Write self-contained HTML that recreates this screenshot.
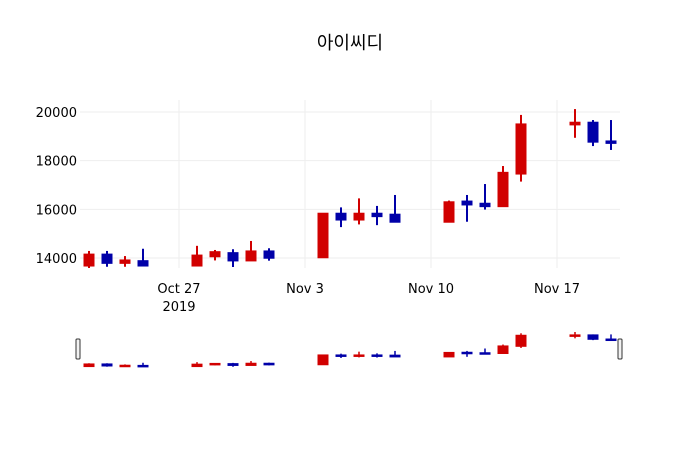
<!DOCTYPE html>
<html><head><meta charset="utf-8"><style>
body{margin:0;background:#fff;}
svg{display:block;font-family:"DejaVu Sans","Liberation Sans","Noto Sans CJK KR",sans-serif;}
</style></head><body>
<svg id="chart" width="700" height="450">
<text x="350" y="49" text-anchor="middle" font-size="18" fill="#000">아이씨디</text>
<g id="grid"></g><g id="yt"></g><g id="xt"></g>
<defs><clipPath id="pc"><rect x="80" y="100" width="540" height="168"/></clipPath></defs>
<g id="candles" clip-path="url(#pc)"></g>
<g id="slider"></g>
</svg>
<script>
const dates=["2019-10-22","2019-10-23","2019-10-24","2019-10-25","2019-10-28","2019-10-29","2019-10-30","2019-10-31","2019-11-01","2019-11-04","2019-11-05","2019-11-06","2019-11-07","2019-11-08","2019-11-11","2019-11-12","2019-11-13","2019-11-14","2019-11-15","2019-11-18","2019-11-19","2019-11-20"];
const openV=[13670,14160,13780,13890,13670,14050,14220,13880,14290,14010,15840,15560,15840,15800,15470,16340,16250,16110,17450,19470,19580,18810];
const highV=[14290,14290,14080,14380,14500,14330,14360,14700,14400,15840,16080,16450,16140,16590,16360,16590,17040,17780,19880,20120,19670,19670];
const lowV=[13590,13640,13640,13670,13670,13900,13630,13880,13890,14010,15270,15380,15350,15470,15470,15490,15990,16110,17140,18940,18600,18440];
const closeV=[14160,13780,13920,13670,14120,14260,13880,14290,13990,15840,15560,15840,15700,15470,16310,16180,16110,17520,19510,19580,18760,18710];
const yTicks=[14000,16000,18000,20000];
const xTickDates=["2019-10-27","2019-11-03","2019-11-10","2019-11-17"];
const xTickLabels=["Oct 27","Nov 3","Nov 10","Nov 17"];

const NS="http://www.w3.org/2000/svg";
const t0=Date.parse("2019-10-21T12:00:00Z"),t1=Date.parse("2019-11-20T12:00:00Z");
const X=d=>80+(Date.parse(d+"T00:00:00Z")-t0)/(t1-t0)*540;
const Y=v=>258-(v-14000)*(146/6000);
const mn=Math.min(...lowV),mx=Math.max(...highV);
const SY=v=>367-(v-mn)/(mx-mn)*35;
function el(tag,a,p){const e=document.createElementNS(NS,tag);for(const k in a)e.setAttribute(k,a[k]);p.appendChild(e);return e;}
const grid=document.getElementById('grid'),yt=document.getElementById('yt'),xt=document.getElementById('xt');
yTicks.forEach(v=>{
 const l=el('line',{x1:80,x2:620,y1:Y(v),y2:Y(v),stroke:'#eee'},grid);
 
 
 const t=el('text',{x:77,y:Y(v)+5,'text-anchor':'end','font-size':13,fill:'#000'},yt);
 t.textContent=v;
 
 
});
xTickDates.forEach((d,i)=>{
 const l=el('line',{x1:X(d),x2:X(d),y1:100,y2:268,stroke:'#eee'},grid);
 
 
 const t=el('text',{x:X(d),y:293,'text-anchor':'middle','font-size':13,fill:'#000'},xt);
 t.textContent=xTickLabels[i];
 
 
});
const yr=el('text',{x:X(xTickDates[0]),y:311,'text-anchor':'middle','font-size':13,fill:'#000'},xt);
yr.textContent="2019";


const cg=document.getElementById('candles'),sg=document.getElementById('slider');
function candle(i,Yf,g,w,lw){
 const up=closeV[i]>=openV[i],c=up?'#d10000':'#0000a8',x=X(dates[i]);
 const gg=el('g',{},g);
 
 
 el('line',{x1:x,x2:x,y1:Yf(highV[i]),y2:Yf(lowV[i]),stroke:c,'stroke-width':lw},gg);
 const a=Yf(Math.max(openV[i],closeV[i])),b=Yf(Math.min(openV[i],closeV[i]));
 el('rect',{x:x-w/2,y:a,width:w,height:Math.max(b-a,1.5),fill:c,stroke:c,'stroke-width':1},gg);
}
dates.forEach((d,i)=>candle(i,Y,cg,10,2));
dates.forEach((d,i)=>candle(i,SY,sg,10,1.5));
[78,620].forEach((x,i)=>{
 const h=el('rect',{x:x-2,y:339,width:4,height:20,rx:1,fill:'#f2f2f2',stroke:'#333','stroke-width':1},sg);
 
 
});
</script>
</body></html>
